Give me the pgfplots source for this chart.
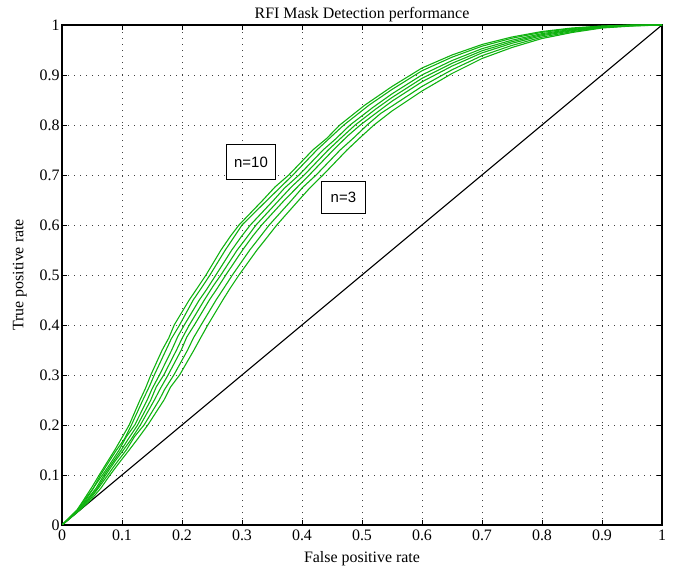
\documentclass[border=0pt]{standalone}
\usepackage{fontspec}
\setmainfont{Liberation Serif}
\newfontfamily\arialfont{Liberation Sans}
\usepackage{pgfplots}
\pgfplotsset{compat=1.18}
\definecolor{roc}{RGB}{15,178,15}
\newcommand{\mfont}{\fontsize{16}{19}\selectfont}
\begin{document}
\begin{tikzpicture}
\begin{axis}[
  name=ax,
  scale only axis,
  width=600bp, height=500bp,
  xmin=0, xmax=1, ymin=0, ymax=1,
  xtick={0,0.1,...,1.0}, ytick={0,0.1,...,1.0},
  xticklabels={0,0.1,0.2,0.3,0.4,0.5,0.6,0.7,0.8,0.9,1},
  yticklabels={0,0.1,0.2,0.3,0.4,0.5,0.6,0.7,0.8,0.9,1},
  /pgf/number format/assume math mode=true,
  tick label style={font=\mfont},
  label style={font=\mfont},
  title style={font=\mfont, yshift=-6bp},
  xticklabel style={yshift=-1bp},
  yticklabel style={xshift=1bp},
  tick align=inside,
  major tick length=5bp,
  tick style={black, line width=0.6bp},
  axis line style={line width=1.2bp},
  grid=major,
  major grid style={black!75, line width=0.6bp, dash pattern=on 0.8bp off 5.2bp},
  title={RFI Mask Detection performance},
  xlabel={False positive rate},
  ylabel={True positive rate},
  xlabel style={yshift=-4bp},
  ylabel style={yshift=6bp},
  every axis plot/.append style={line width=1.1bp},
]
% diagonal
\addplot[black, line width=1.1bp] coordinates {(0,0) (1,1)};
% ROC curves
\addplot[roc] coordinates {(0,0) (0.025,0.03) (0.036,0.05) (0.050,0.076) (0.062,0.10) (0.076,0.127) (0.088,0.15) (0.101,0.177) (0.112,0.20) (0.130,0.25) (0.139,0.273) (0.148,0.30) (0.167,0.35) (0.178,0.374) (0.187,0.40) (0.212,0.45) (0.225,0.473) (0.240,0.50) (0.265,0.55) (0.281,0.578) (0.295,0.60) (0.335,0.65) (0.355,0.676) (0.378,0.70) (0.418,0.75) (0.441,0.773) (0.463,0.80) (0.505,0.84) (0.55,0.877) (0.60,0.914) (0.65,0.940) (0.70,0.961) (0.75,0.976) (0.80,0.987) (0.85,0.994) (0.90,0.998) (0.95,1.0) (1,1)};
\addplot[roc] coordinates {(0,0) (0.0256,0.03) (0.0374,0.05) (0.052,0.073) (0.0642,0.10) (0.079,0.128) (0.0909,0.15) (0.104,0.172) (0.1157,0.20) (0.1348,0.25) (0.146,0.278) (0.1538,0.30) (0.1734,0.35) (0.182,0.372) (0.1960,0.40) (0.2187,0.45) (0.234,0.477) (0.2466,0.50) (0.2722,0.55) (0.284,0.571) (0.3000,0.60) (0.3422,0.65) (0.361,0.672) (0.3848,0.70) (0.4248,0.75) (0.449,0.777) (0.4698,0.80) (0.512,0.840) (0.55,0.8711) (0.60,0.9085) (0.65,0.9356) (0.70,0.9576) (0.75,0.9735) (0.80,0.9853) (0.85,0.9929) (0.90,0.9975) (0.95,0.9998) (1,1)};
\addplot[roc] coordinates {(0,0) (0.0265,0.03) (0.0396,0.05) (0.054,0.077) (0.0674,0.10) (0.080,0.122) (0.0952,0.15) (0.107,0.176) (0.1213,0.20) (0.1420,0.25) (0.150,0.272) (0.1624,0.30) (0.1829,0.35) (0.193,0.377) (0.2038,0.40) (0.2288,0.45) (0.241,0.471) (0.2565,0.50) (0.2830,0.55) (0.299,0.577) (0.3139,0.60) (0.3530,0.65) (0.371,0.674) (0.3951,0.70) (0.4351,0.75) (0.456,0.772) (0.4801,0.80) (0.518,0.835) (0.55,0.8623) (0.60,0.9002) (0.65,0.9289) (0.70,0.9526) (0.75,0.9697) (0.80,0.9828) (0.85,0.9913) (0.90,0.9968) (0.95,0.9994) (1,1)};
\addplot[roc] coordinates {(0,0) (0.0273,0.03) (0.0414,0.05) (0.057,0.074) (0.0701,0.10) (0.085,0.126) (0.0988,0.15) (0.111,0.173) (0.1260,0.20) (0.1480,0.25) (0.157,0.276) (0.1696,0.30) (0.1909,0.35) (0.200,0.373) (0.2122,0.40) (0.2372,0.45) (0.252,0.478) (0.2648,0.50) (0.2920,0.55) (0.306,0.572) (0.3234,0.60) (0.3620,0.65) (0.383,0.677) (0.4037,0.70) (0.4437,0.75) (0.465,0.774) (0.4887,0.80) (0.523,0.832) (0.55,0.8550) (0.60,0.8933) (0.65,0.9234) (0.70,0.9484) (0.75,0.9666) (0.80,0.9807) (0.85,0.9900) (0.90,0.9962) (0.95,0.9991) (1,1)};
\addplot[roc] coordinates {(0,0) (0.0280,0.03) (0.0432,0.05) (0.058,0.072) (0.0728,0.10) (0.088,0.127) (0.1024,0.15) (0.115,0.171) (0.1306,0.20) (0.1540,0.25) (0.164,0.273) (0.1768,0.30) (0.1988,0.35) (0.208,0.376) (0.2206,0.40) (0.2456,0.45) (0.258,0.472) (0.2730,0.50) (0.3010,0.55) (0.318,0.578) (0.3328,0.60) (0.3710,0.65) (0.390,0.673) (0.4122,0.70) (0.4522,0.75) (0.476,0.778) (0.4972,0.80) (0.527,0.827) (0.55,0.8476) (0.60,0.8864) (0.65,0.9178) (0.70,0.9442) (0.75,0.9634) (0.80,0.9786) (0.85,0.9886) (0.90,0.9956) (0.95,0.9988) (1,1)};
\addplot[roc] coordinates {(0,0) (0.0290,0.03) (0.0456,0.05) (0.062,0.076) (0.0764,0.10) (0.090,0.123) (0.1072,0.15) (0.121,0.177) (0.1368,0.20) (0.1620,0.25) (0.171,0.271) (0.1864,0.30) (0.2094,0.35) (0.219,0.374) (0.2318,0.40) (0.2568,0.45) (0.271,0.476) (0.2840,0.50) (0.3130,0.55) (0.328,0.573) (0.3454,0.60) (0.3830,0.65) (0.401,0.675) (0.4236,0.70) (0.4636,0.75) (0.485,0.773) (0.5086,0.80) (0.531,0.823) (0.55,0.8378) (0.60,0.8772) (0.65,0.9104) (0.70,0.9386) (0.75,0.9592) (0.80,0.9758) (0.85,0.9868) (0.90,0.9948) (0.95,0.9984) (1,1)};
\addplot[roc] coordinates {(0,0) (0.030,0.03) (0.048,0.05) (0.065,0.074) (0.080,0.10) (0.097,0.127) (0.112,0.15) (0.126,0.172) (0.143,0.20) (0.170,0.25) (0.181,0.276) (0.196,0.30) (0.220,0.35) (0.230,0.372) (0.243,0.40) (0.268,0.45) (0.280,0.473) (0.295,0.50) (0.325,0.55) (0.339,0.571) (0.358,0.60) (0.395,0.65) (0.413,0.674) (0.435,0.70) (0.475,0.75) (0.498,0.776) (0.520,0.80) (0.55,0.828) (0.60,0.868) (0.65,0.903) (0.70,0.933) (0.75,0.955) (0.80,0.973) (0.85,0.985) (0.90,0.994) (0.95,0.998) (1,1)};
\node[draw=black, fill=white, line width=0.7bp, font=\arialfont\fontsize{15}{17}\selectfont, inner xsep=8bp, minimum height=35bp] at (axis cs:0.315,0.726) {n=10};
\node[draw=black, fill=white, line width=0.7bp, font=\arialfont\fontsize{15}{17}\selectfont, inner xsep=9bp, minimum height=32bp] at (axis cs:0.469,0.656) {n=3};
\end{axis}
\path ([xshift=-62bp,yshift=-43bp]ax.south west) rectangle ([xshift=21bp,yshift=25bp]ax.north east);
\end{tikzpicture}
\end{document}
